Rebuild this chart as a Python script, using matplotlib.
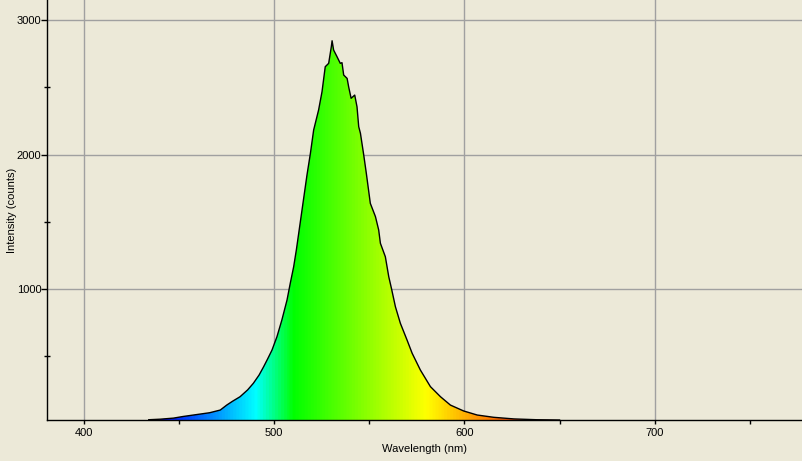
import numpy as np
import matplotlib
matplotlib.use("Agg")
import matplotlib.pyplot as plt
from matplotlib.colors import LinearSegmentedColormap, Normalize
from matplotlib.patches import Polygon

# ---- data ----
wavelength = [434, 440, 447, 452, 457.5, 462, 466, 471.6, 475, 478, 482, 486, 489,
              492, 494.4, 496.5, 498.8, 501.4, 504, 506.7, 508.4, 510.2, 511.6,
              517.2, 519, 520.7, 523.3, 525.1, 526.8, 528.6, 530, 530.4, 531.2,
              533, 534.7, 535.6, 536.5, 538.3, 539.1, 540.4, 542.3, 543.5, 544.4,
              545.3, 547, 548.4, 550.5, 553.2, 554.9, 555.8, 558.4, 560.2, 561.6,
              563.7, 566.3, 569.8, 572.5, 576.8, 582.1, 587.4, 592.6, 599.6, 606.7,
              615.4, 626, 638, 650]
intensity = [28, 32, 40, 52, 63, 72, 80, 100, 137, 165, 199, 250, 299,
             360, 422, 480, 546, 645, 770, 918, 1042, 1166, 1290,
             1848, 2009, 2182, 2331, 2467, 2653, 2678, 2802, 2846, 2777,
             2727, 2678, 2683, 2591, 2566, 2504, 2418, 2442, 2355, 2207,
             2158, 2000, 1860, 1637, 1538, 1439, 1340, 1240, 1091, 1005,
             868, 745, 621, 522, 398, 274, 199, 137, 93, 63,
             46, 34, 28, 26]
x_major = [400, 500, 600, 700]
x_minor = [450, 550, 650, 750]
y_major = [1000, 2000, 3000]
y_minor = [500, 1500, 2500]

# spectral colour anchors (nm, colour)
spec_nm = [380, 440, 490, 510, 580, 645, 780]
spec_col = ['#7a00ff', '#0000ff', '#00ffff', '#00ff00', '#ffff00', '#ff0000', '#ff0000']

BG = '#ece9d8'
XMIN, XMAX = 380.5, 778
YMIN, YMAX = 26, 3149

plt.rcParams['font.family'] = ['Liberation Sans', 'DejaVu Sans']

fig = plt.figure(figsize=(8.03, 4.61), dpi=100, facecolor=BG)
ax = fig.add_axes([47/803, 1 - 420/461, 1 - 47/803, 420/461])
ax.set_facecolor(BG)

pos = [(n - spec_nm[0]) / (spec_nm[-1] - spec_nm[0]) for n in spec_nm]
cmap = LinearSegmentedColormap.from_list('spec', list(zip(pos, spec_col)))
grad = np.linspace(spec_nm[0], spec_nm[-1], 1000).reshape(1, -1)
im = ax.imshow(grad, extent=[spec_nm[0], spec_nm[-1], 0, YMAX], aspect='auto',
               cmap=cmap, norm=Normalize(spec_nm[0], spec_nm[-1]), origin='lower',
               interpolation='bilinear', zorder=1)
verts = [(wavelength[0], 0)] + list(zip(wavelength, intensity)) + [(wavelength[-1], 0)]
patch = Polygon(verts, closed=True, transform=ax.transData, facecolor='none', edgecolor='none')
ax.add_patch(patch)
im.set_clip_path(patch)

ax.plot(wavelength, intensity, color='black', lw=1.0, zorder=3)

ax.set_xlim(XMIN, XMAX)
ax.set_ylim(YMIN, YMAX)
ax.set_xticks(x_major)
ax.set_xticks(x_minor, minor=True)
ax.set_yticks(y_major)
ax.set_yticks(y_minor, minor=True)
ax.set_axisbelow(True)
ax.grid(True, which='major', color='#a0a0a0', lw=1)

for s in ['top', 'right']:
    ax.spines[s].set_visible(False)
for s in ['left', 'bottom']:
    ax.spines[s].set_color('black')
    ax.spines[s].set_linewidth(1.0)

ax.tick_params(axis='x', which='both', direction='out', length=3, width=1, labelsize=8, pad=3)
ax.tick_params(axis='y', which='major', direction='out', length=4, width=1, labelsize=8, pad=0)
ax.tick_params(axis='y', which='minor', direction='inout', length=4, width=1)

ax.set_xlabel('Wavelength (nm)', fontsize=8, labelpad=4)
ax.set_ylabel('Intensity (counts)', fontsize=8)
ax.yaxis.set_label_coords(-30/756, 0.5)

fig.savefig('out.png', dpi=100, facecolor=BG)
